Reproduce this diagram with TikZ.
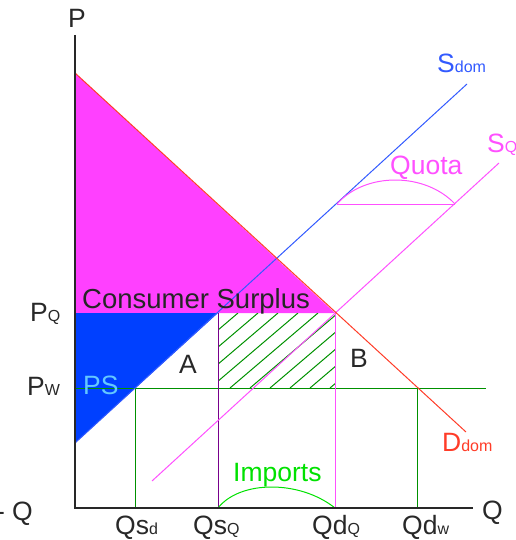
\documentclass[tikz,border=0pt]{standalone}
\usepackage{fontspec}
\setmainfont{Liberation Sans}
\definecolor{csmag}{RGB}{255,64,255}
\definecolor{psblue}{RGB}{0,64,255}
\definecolor{sdomblue}{RGB}{50,90,255}
\definecolor{sqmag}{RGB}{255,80,255}
\definecolor{dred}{RGB}{255,60,40}
\definecolor{lgreen}{RGB}{0,145,0}
\definecolor{impgreen}{RGB}{0,225,0}
\definecolor{pscyan}{RGB}{100,200,255}
\definecolor{qpurple}{RGB}{120,0,140}
\definecolor{axgray}{RGB}{40,40,40}
\newcommand\biglbl[2]{{\fontsize{26.5}{30}\selectfont #1}{\fontsize{16}{18}\selectfont #2}}
\begin{document}
\begin{tikzpicture}[x=1pt,y=-1pt,
  lbl/.style={anchor=base west,inner sep=0pt,font=\fontsize{26.5}{30}\selectfont},
  thin line/.style={line width=1pt},
  axis line/.style={line width=2pt,draw=axgray}]
\useasboundingbox (0,0) rectangle (515,540);
% coordinates
\coordinate (ytop) at (75,35);
\coordinate (orig) at (75,508);
\coordinate (xend) at (473,508);
\coordinate (dtop) at (75,73);
\coordinate (dend) at (466,432);
\coordinate (pq) at (75,313);
\coordinate (pw) at (75,388);
\coordinate (sbot) at (75,443);
\coordinate (stop) at (467,84);
\coordinate (sqbot) at (152,481);
\coordinate (sqtop) at (499,163);
\coordinate (eA) at (218,313);
\coordinate (eQ) at (335,313);
\coordinate (eA0) at (218,508);
\coordinate (eQ0) at (335,508);
\coordinate (qsd) at (135,388);
\coordinate (qsd0) at (135,508);
\coordinate (qdw) at (417,388);
\coordinate (qdw0) at (417,508);
\coordinate (pwend) at (486,388);
\coordinate (qa) at (337,204);
\coordinate (qb) at (455,204);
% fills
\fill[csmag] (dtop) -- (pq) -- (eQ) -- cycle;
\fill[psblue] (pq) -- (eA) -- (sbot) -- cycle;
% hatch
\begin{scope}
\clip (218,313) rectangle (335,388);
\foreach \k in {-6,...,10}{
  \draw[lgreen,line width=1pt] (238+20*\k-88,388) -- (238+20*\k,313);
}
\end{scope}
% lines
\draw[lgreen,thin line] (pw) -- (pwend);
\draw[lgreen,thin line] (qsd) -- (qsd0);
\draw[lgreen,thin line] (qdw) -- (qdw0);
\draw[qpurple,thin line] (eA) -- (eA0);
\draw[sqmag,thin line] (eQ) -- (eQ0);
\draw[sqmag,thin line] (sqbot) -- (sqtop);
\draw[sdomblue,thin line] (sbot) -- (stop);
\draw[dred,thin line] (dtop) -- (dend);
\draw[sqmag,thin line] (qa) -- (qb);
\draw[sqmag,thin line] (qa) .. controls (365,172) and (425,172) .. (qb);
\draw[impgreen,thin line] (eA0) .. controls (240,480) and (300,480) .. (eQ0);
% axes
\draw[axis line] (ytop) -- (orig) -- (xend);
% labels
\node[lbl,text=axgray] (lP) at (68,28) {P};
\node[lbl,text=axgray] (lQ) at (482,519) {Q};
\node[lbl,text=axgray,anchor=base east] (lQl) at (33,520) {- Q};
\node[lbl,text=axgray] (lPQ) at (30,321) {\biglbl{P}{Q}};
\node[lbl,text=axgray] (lPW) at (27,395) {\biglbl{P}{W}};
\node[lbl,text=pscyan] (lPS) at (83,394) {PS};
\node[lbl,text=axgray] (lA) at (179,373) {A};
\node[lbl,text=axgray] (lB) at (350,367) {B};
\node[lbl,text=black!85,font=\fontsize{27.5}{30}\selectfont] (lCS) at (82,308) {Consumer Surplus};
\node[lbl,text=impgreen] (lImp) at (233,481) {Imports};
\node[lbl,text=sqmag] (lQuota) at (390,175) {Quota};
\node[lbl,text=sdomblue] (lSdom) at (437,73) {\biglbl{S}{dom}};
\node[lbl,text=sqmag] (lSQ) at (487,153) {\biglbl{S}{Q}};
\node[lbl,text=dred] (lDdom) at (442,451) {\biglbl{D}{dom}};
\node[lbl,text=axgray] (lQsd) at (115,534) {\biglbl{Qs}{d}};
\node[lbl,text=axgray] (lQsQ) at (193,534) {\biglbl{Qs}{Q}};
\node[lbl,text=axgray] (lQdQ) at (312,534) {\biglbl{Qd}{Q}};
\node[lbl,text=axgray] (lQdw) at (402,534) {\biglbl{Qd}{w}};
\end{tikzpicture}
\end{document}
